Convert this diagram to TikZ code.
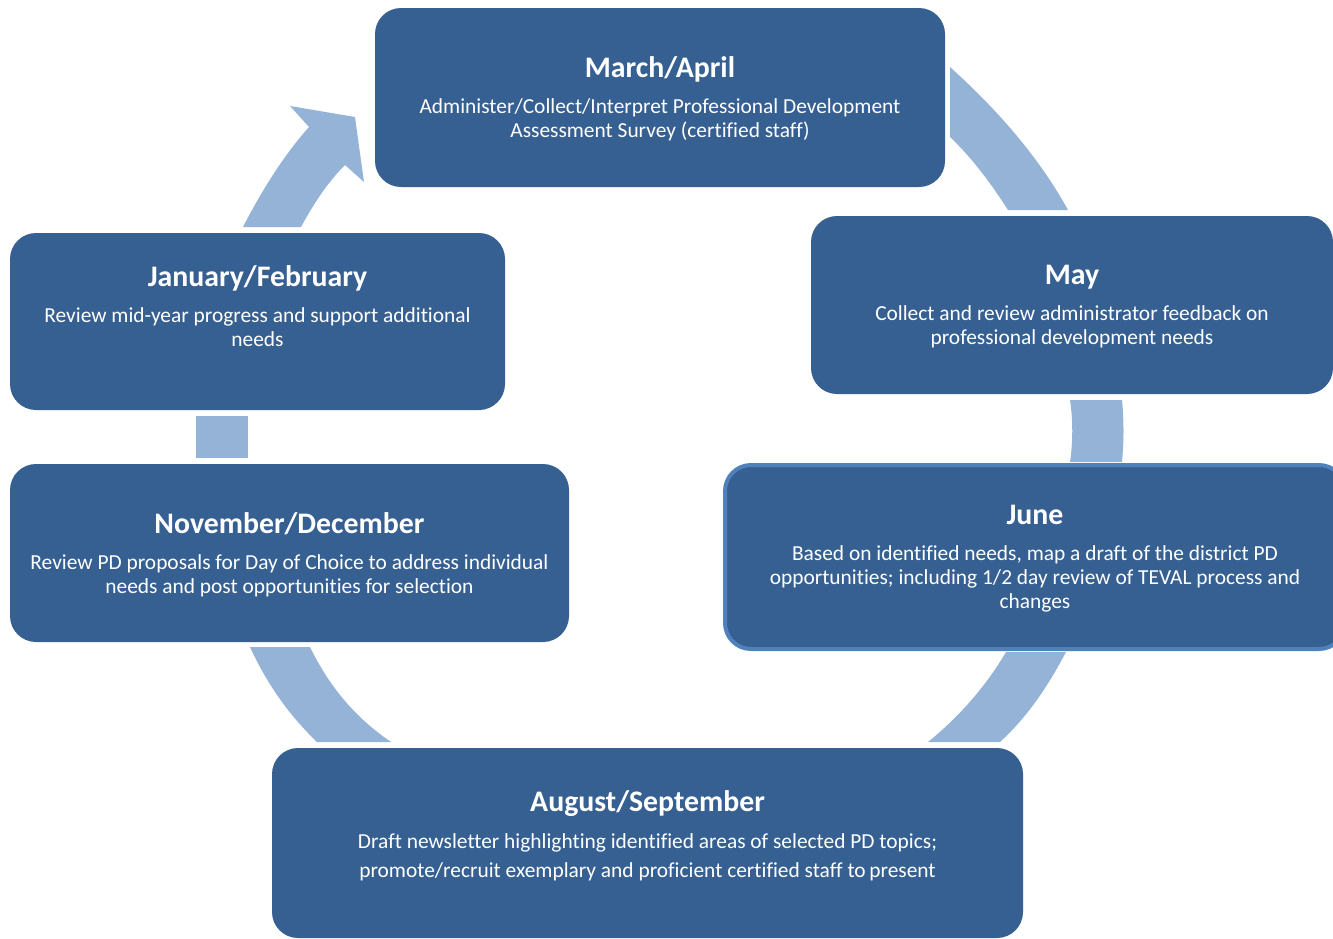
\documentclass[tikz,border=0pt]{standalone}
\usepackage{fontspec}
\setmainfont{Carlito}[Ligatures={NoCommon}]
\definecolor{boxblue}{RGB}{55, 96, 146}
\definecolor{ringblue}{RGB}{149, 179, 215}
\definecolor{edgeblue}{RGB}{79, 129, 189}
\newcommand{\phasetitle}[1]{{\fontsize{29.8}{34}\selectfont\bfseries #1}}

\begin{document}
\begin{tikzpicture}[x=1pt, y=-1pt,
  phase/.style={fill=boxblue, rounded corners=26pt, text=white, align=center, inner sep=0pt, font=\fontsize{21.4}{24}\selectfont},
  ring/.style={fill=ringblue}
]
  \path[use as bounding box, clip] (0,0) rectangle (1333,938);

  % ring pieces between the phases
  \fill[ring] (243,227) .. controls (262,190) and (284,155) .. (309,127) -- (290,106) -- (355,117) -- (364,182) -- (345,165) .. controls (328,182) and (314,203) .. (301,227) -- cycle;
  \fill[ring] (950,67) .. controls (992,105) and (1036,152) .. (1068,210) -- (1008,210) .. controls (990,182) and (972,158) .. (950,137) -- cycle;
  \fill[ring] (1070,400) .. controls (1073,420) and (1073,442) .. (1070,462) -- (1122,462) .. controls (1124,442) and (1124,420) .. (1122,400) -- cycle;
  \fill[ring] (1006,652) -- (1066,652) .. controls (1046,690) and (1026,718) .. (1000,742) -- (928,742) .. controls (960,716) and (986,686) .. (1006,652) -- cycle;
  \fill[ring] (250,647) -- (310,647) .. controls (330,688) and (356,718) .. (391,742) -- (317,742) .. controls (290,716) and (268,686) .. (250,647) -- cycle;
  \fill[ring] (196,416) rectangle (248,458);

  \node[phase, minimum width=570pt, minimum height=179pt, text depth=-4pt] (marapr) at (660,97.5) {\phasetitle{March/April}\\[12pt]Administer/Collect/Interpret Professional Development\\Assessment Survey (certified staff)};
  \node[phase, minimum width=522pt, minimum height=178pt, text depth=-8pt] (may) at (1072,305) {\phasetitle{May}\\[12pt]Collect and review administrator feedback on\\professional development needs};
  \node[phase, draw=edgeblue, line width=4pt, minimum width=620pt, minimum height=184pt, text depth=-7pt] (june) at (1035,557) {\phasetitle{June}\\[12pt]Based on identified needs, map a draft of the district PD\\opportunities; including 1/2 day review of TEVAL process and\\changes};
  \node[phase, minimum width=751pt, minimum height=190pt, text depth=18pt, font=\fontsize{21.4}{29}\selectfont] (augsep) at (647.5,843) {\phasetitle{August/September}\\[8pt]Draft newsletter highlighting identified areas of selected PD topics;\\promote/recruit exemplary and proficient certified staff to\,present};
  \node[phase, minimum width=559pt, minimum height=178pt, text depth=-6pt] (novdec) at (289.5,553) {\phasetitle{November/December}\\[12pt]Review PD proposals for Day of Choice to address individual\\needs and post opportunities for selection};
  \node[phase, minimum width=495pt, minimum height=177pt, text depth=30pt] (janfeb) at (257.5,321.5) {\phasetitle{January/February}\\[12pt]Review mid-year progress and support additional\\needs};
\end{tikzpicture}
\end{document}
